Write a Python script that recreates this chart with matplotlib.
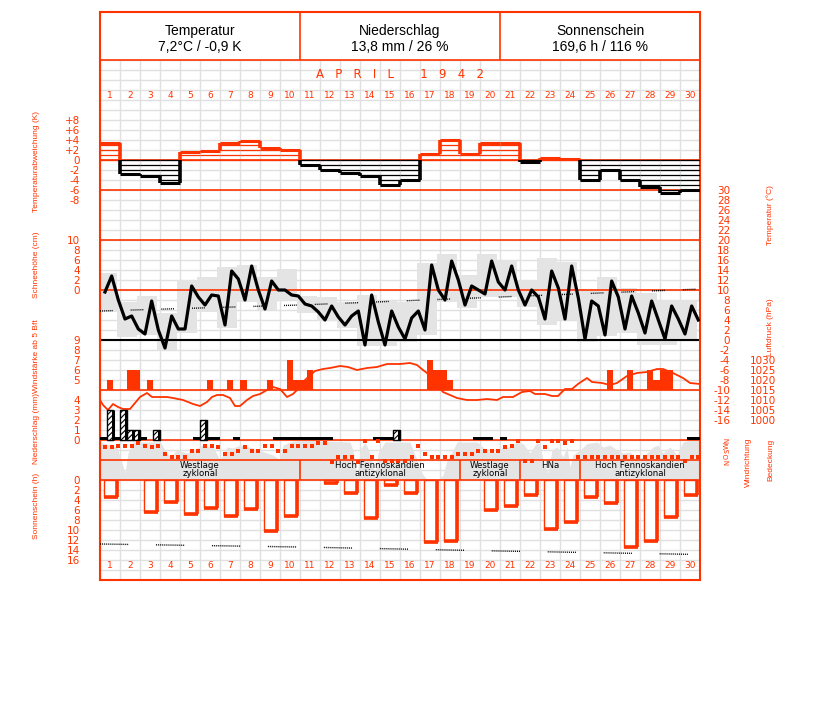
import matplotlib
matplotlib.use("Agg")
import matplotlib.pyplot as plt
import numpy as np

## DATEN ##
days = np.arange(1, 31)

# Temperaturabweichung vom Mittel (K), Tageswerte
temp_anom = [3.5, -2.8, -3.1, -4.5, 1.7, 1.9, 3.5, 3.9, 2.5, 2.0,
             -1.0, -2.0, -2.6, -3.2, -5.0, -4.0, 1.2, 4.0, 1.2, 3.4,
             3.4, -0.3, 0.5, 0.3, -4.0, -2.0, -4.0, -5.4, -6.6, -6.0]

# Temperatur (°C), 3 Termine pro Tag
temp_obs = [9.6, 12.8, 8.0,   4.2, 4.8, 2.2,   1.2, 7.8, 2.0,
            -1.6, 4.8, 2.2,   2.2, 10.8, 8.6,  7.0, 9.0, 8.8,
            3.0, 13.8, 12.2,  8.0, 14.8, 10.0, 6.2, 11.8, 10.0,
            10.0, 9.0, 8.8,   7.2, 6.8, 5.6,   4.0, 6.8, 4.6,
            3.0, 4.8, 5.8,    -1.0, 9.0, 3.6,  -1.0, 5.8, 2.6,
            0.2, 4.4, 5.8,    2.0, 15.0, 10.0, 8.0, 15.8, 12.0,
            7.0, 10.8, 10.0,  9.2, 15.8, 11.6, 10.0, 14.8, 10.0,
            7.0, 10.0, 8.6,   4.2, 13.8, 10.4, 4.2, 14.8, 8.4,
            0.2, 7.8, 6.8,    1.0, 11.8, 8.6,  2.2, 8.8, 5.4,
            1.4, 7.8, 4.0,    0.2, 6.8, 4.2,   1.2, 6.8, 4.0]

# Tagesmaximum / -minimum (°C)
temp_max = [13.4, 7.6, 8.8, 5.4, 12.0, 12.6, 14.6, 15.0, 12.6, 14.2,
            8.8, 8.6, 7.6, 9.0, 7.8, 7.6, 15.4, 17.2, 13.0, 17.2,
            16.0, 12.0, 16.4, 15.6, 10.0, 12.6, 10.4, 9.4, 8.0, 8.0]
temp_min = [5.6, 0.6, 1.0, -2.0, 1.4, 5.6, 2.4, 7.6, 6.0, 8.0,
            5.4, 3.8, 2.4, -1.2, -1.2, -0.4, 1.0, 7.6, 6.4, 8.6,
            8.6, 6.6, 3.0, 4.0, -0.4, 0.8, 1.4, -1.0, -1.0, 0.0]

# langjähriges Mittel der Temperatur (°C)
norm_day = [0, 10, 20, 30]
norm_temp = [5.8, 7.0, 8.6, 10.2]

# Windstärke ab 5 Bft, 3 Termine pro Tag (0 = unter 5 Bft)
wind_bft = [0, 5, 0,  0, 6, 6,  0, 5, 0,  0, 0, 0,  0, 0, 0,
            0, 5, 0,  0, 5, 0,  5, 0, 0,  0, 5, 0,  0, 7, 5,
            5, 6, 0,  0, 0, 0,  0, 0, 0,  0, 0, 0,  0, 0, 0,
            0, 0, 0,  0, 7, 6,  6, 5, 0,  0, 0, 0,  0, 0, 0,
            0, 0, 0,  0, 0, 0,  0, 0, 0,  0, 0, 0,  0, 0, 0,
            0, 6, 0,  0, 6, 0,  0, 6, 5,  6, 6, 0,  0, 0, 0]

# Luftdruck (hPa)
press_day = [0.0, 0.15, 0.4, 0.65, 0.9, 1.15, 1.5, 1.75, 2.0, 2.35, 2.6, 2.9,
             3.35, 3.65, 4.15, 4.65, 5.0, 5.35, 5.6, 5.85, 6.15, 6.5, 6.75,
             7.0, 7.35, 7.65, 8.0, 8.35, 8.65, 9.0, 9.35, 9.65, 9.85, 10.25,
             10.75, 11.15, 11.5, 12.0, 12.4, 12.85, 13.35, 13.85, 14.35, 15.0,
             15.5, 15.85, 16.15, 16.35, 16.75, 17.15, 17.5, 17.85, 18.35,
             18.85, 19.35, 19.85, 20.15, 20.65, 21.1, 21.5, 21.75, 22.25,
             22.6, 22.9, 23.25, 23.6, 23.9, 24.35, 24.6, 25.1, 25.5, 25.85,
             26.35, 26.85, 27.35, 27.85, 28.15, 28.65, 29.15, 29.5, 30.0]
press_hpa = [1010, 1007.5, 1005, 1008, 1006.5, 1005.5, 1005.5, 1008.5, 1011.5,
             1013.5, 1011.5, 1011.5, 1011.5, 1011, 1010, 1008, 1007, 1009,
             1011.5, 1012.5, 1012.5, 1011, 1007, 1007, 1010, 1012, 1013, 1015,
             1016.5, 1015.5, 1011.5, 1013, 1015, 1020, 1024.5, 1025.5, 1026,
             1027, 1026.5, 1025, 1026, 1026.5, 1028, 1028, 1028.5, 1027.5,
             1025, 1023.5, 1019, 1014, 1012.5, 1011, 1010, 1010, 1010.5, 1010,
             1011.5, 1011.5, 1014, 1014.5, 1013, 1013, 1012, 1012, 1015.5,
             1015.5, 1018, 1021, 1019, 1018.5, 1017.5, 1018.5, 1022, 1023.5,
             1024, 1025.5, 1025.5, 1023.5, 1021, 1018.5, 1018]

# Niederschlag (mm), 3 Termine pro Tag, 0.1 = Spur
precip = [0.1, 3, 0.1,  3, 1, 1,  0.1, 0, 1,  0, 0, 0,  0, 0, 0.1,
          2, 0.1, 0.1,  0, 0, 0.1,  0, 0, 0,  0, 0, 0.1,  0.1, 0.1, 0.1,
          0.1, 0.1, 0.1,  0.1, 0.1, 0,  0, 0, 0,  0, 0, 0.1,  0.1, 0.1, 1,
          0, 0, 0,  0, 0, 0,  0, 0, 0,  0, 0, 0.1,  0.1, 0.1, 0,
          0.1, 0, 0,  0, 0, 0,  0, 0, 0,  0, 0, 0,  0, 0, 0,
          0, 0, 0,  0, 0, 0,  0, 0, 0,  0, 0, 0,  0, 0.1, 0.1]

# Bedeckung (Achtel)
cloud_day = [0.0, 0.5, 0.85, 1.1, 1.25, 1.4, 1.65, 3.0, 3.35, 3.5, 3.85, 4.35,
             4.65, 5.15, 5.65, 6.0, 6.35, 6.65, 7.0, 7.65, 8.35, 8.65, 9.0,
             9.15, 9.5, 10.0, 12.5, 12.65, 12.85, 13.0, 13.25, 13.5, 13.75,
             13.9, 14.25, 15.5, 15.65, 15.85, 16.1, 16.35, 16.85, 17.15,
             17.35, 17.65, 17.85, 18.85, 19.15, 19.5, 19.85, 20.15, 20.5,
             20.85, 21.15, 21.5, 21.85, 22.0, 22.15, 22.4, 22.6, 22.85, 23.15,
             23.35, 23.5, 23.65, 24.0, 24.35, 24.85, 25.15, 25.5, 25.85, 26.15,
             26.5, 26.85, 27.15, 27.65, 27.9, 28.15, 28.5, 28.85, 29.15, 29.5,
             30.0]
cloud_octa = [7.6, 7.0, 6.6, 3.4, 1.4, 5.4, 7.6, 7.6, 5.4, 4.6, 6.0, 5.4,
              6.0, 7.0, 6.6, 4.0, 6.6, 6.4, 7.0, 6.4, 5.4, 5.0, 4.0,
              7.0, 7.6, 8.0, 7.6, 6.0, 0.6, 6.0, 7.6, 5.4, 0.6,
              5.4, 7.6, 7.6, 6.0, 4.0, 1.4, 0.0, 0.0, 1.0,
              4.0, 6.0, 7.6, 7.6, 6.6, 5.4, 5.6, 6.6, 6.6,
              7.6, 7.3, 5.4, 7.6, 7.0, 4.0, 1.4, 6.0, 6.6, 4.6,
              6.6, 2.6, 5.0, 6.0, 7.3, 7.6, 6.6, 7.0, 6.0, 5.4,
              5.6, 4.0, 4.6, 6.6, 7.0, 5.4, 6.6, 5.0, 7.6, 8.0,
              8.0]

# Windrichtung (Grad), 3 Termine pro Tag
wind_dir = [247, 247, 270,  270, 270, 315,  270, 247, 270,  135, 90, 90,
            90, 180, 180,   270, 270, 247,  135, 135, 180,  247, 180, 180,
            270, 270, 180,  180, 270, 270,  270, 270, 315,  315, 0, 90,
            90, 90, 0,      337, 90, 337,   22, 22, 22,     22, 90, 270,
            135, 90, 90,    90, 90, 135,    135, 135, 180,  180, 180, 180,
            247, 270, 337,  22, 22, 337,    247, 337, 337,  315, 337, 90,
            90, 90, 90,     90, 90, 90,     90, 90, 90,     90, 90, 90,
            90, 90, 90,     22, 90, 90]

# Sonnenscheindauer (h)
sun_h = [3.4, 0, 6.4, 4.4, 6.8, 5.6, 7.2, 5.8, 10.2, 7.2,
         0, 0.6, 2.6, 7.6, 0.9, 2.5, 12.3, 12.1, 0, 5.9,
         5.2, 3.0, 9.8, 8.4, 3.4, 4.6, 13.4, 12.2, 7.4, 3.0]
sun_poss_day = [0, 10, 20, 30]
sun_poss_h = [12.8, 13.4, 14.2, 14.9]

# Großwetterlagen
gwl_start = [1, 11, 19, 22, 25]
gwl_end = [10, 18, 21, 24, 30]
gwl_name = ["Westlage\nzyklonal", "Hoch Fennoskandien\nantizyklonal",
            "Westlage\nzyklonal", "HNa", "Hoch Fennoskandien\nantizyklonal"]

head_title = ["Temperatur", "Niederschlag", "Sonnenschein"]
head_value = ["7,2°C / -0,9 K", "13,8 mm / 26 %", "169,6 h / 116 %"]

## LAYOUT ##
RED = "#ff3300"
GRID = "#e0e0e0"
GRAY = "#e4e4e4"
W, H = 827, 702
L, R, T, B = 100, 700, 60, 580
TICK = 7.5
DOTS = (0, (0.7, 0.7) * 6 + (0.7, 13))

fig = plt.figure(figsize=(W / 100, H / 100), dpi=100)


def rect(x0, y0, x1, y1):
    return [x0 / W, 1 - y1 / H, (x1 - x0) / W, (y1 - y0) / H]


def panel(v_ref, y_ref, k, z):
    # Achse über dem ganzen Diagramm, Wert v_ref liegt bei Pixelzeile y_ref
    ax = fig.add_axes(rect(L, T, R, B))
    ax.set_xlim(0, 30)
    ax.set_ylim(v_ref - (B - y_ref) / k, v_ref + (y_ref - T) / k)
    ax.patch.set_visible(False)
    for s in ax.spines.values():
        s.set_visible(False)
    ax.set_xticks([])
    ax.set_yticks([])
    ax.set_zorder(z)
    return ax


def left_ticks(ax, vals, labels):
    ax.set_yticks(vals, labels)
    ax.tick_params(axis="y", length=0, pad=14.4, labelsize=TICK, labelcolor=RED)


def right_ticks(ax, vals, labels, pad_px):
    ax.yaxis.tick_right()
    ax.set_yticks(vals, labels)
    ax.tick_params(axis="y", length=0, pad=pad_px * 0.72, labelsize=TICK, labelcolor=RED)
    for lb in ax.get_yticklabels():
        lb.set_horizontalalignment("right")


obs_x = 0.25 + np.arange(90) / 3

# Gitter
base = panel(0, 0, -1, 0)
base.set_xticks(range(31))
base.set_yticks(range(T, B + 1, 10))
base.grid(True, color=GRID, lw=1)
base.tick_params(length=0, labelleft=False, labelbottom=False)

# Hintergrund: Tagesspanne Temperatur, Bedeckung
ax_tb = panel(0, 340, 5, 1)
ax_tb.bar(days - 1.15, np.array(temp_max) - np.array(temp_min), bottom=temp_min,
          width=1, align="edge", color=GRAY, lw=0)
ax_cb = panel(0, 480, 5, 1)
ax_cb.fill_between(cloud_day, 0, cloud_octa, color=GRAY, lw=0)

# Rahmen, Trennlinien, Texte (x in Tagen, y in Pixeln)
over = fig.add_axes(rect(L, 12, R, B))
over.set_xlim(0, 30)
over.set_ylim(B, 12)
over.patch.set_visible(False)
over.set_xticks([])
over.set_yticks([])
over.set_zorder(2)
for s in over.spines.values():
    s.set_color(RED)
    s.set_linewidth(1.5)
over.hlines([60, 160, 190, 240, 290, 390, 440, 460, 480], 0, 30, color=RED, lw=1.2)
over.hlines(340, 0, 30, color="black", lw=1.5)
over.vlines([10, 20], 12, 60, color=RED, lw=1.2)
over.vlines(np.array(gwl_end[:-1]), 460, 480, color=RED, lw=1.2)

for i in range(3):
    over.text(5 + 10 * i, 31, head_title[i], ha="center", va="center",
              fontsize=10, family="Liberation Sans")
    over.text(5 + 10 * i, 47, head_value[i], ha="center", va="center",
              fontsize=10, family="Liberation Sans")
over.text(15, 75, "A   P   R   I   L       1   9   4   2", ha="center", va="center",
          fontsize=8.5, color=RED)
for d in days:
    over.text(d - 0.5, 95, str(d), ha="center", va="center", fontsize=6.5, color=RED)
    over.text(d - 0.5, 565, str(d), ha="center", va="center", fontsize=6.5, color=RED)
for s, e, n in zip(gwl_start, gwl_end, gwl_name):
    over.text((s - 1 + e) / 2, 461.5, n, ha="center", va="top", fontsize=6.2,
              linespacing=0.8)

# Temperaturabweichung
ax_a = panel(0, 160, 5, 3)
for i, v in enumerate(temp_anom):
    col = RED if v > 0 else "black"
    for j in range(0, int(abs(v)) + 1):
        ax_a.hlines(np.sign(v) * j, i, i + 1, color=col, lw=0.9)
    ax_a.hlines(v, i, i + 1, color=col, lw=2.2)
    if i > 0:
        p = temp_anom[i - 1]
        for a, b in [(p, v)] if p * v > 0 else [(p, 0), (0, v)]:
            c = RED if (a + b) > 0 else "black"
            ax_a.vlines(i, a, b, color=c, lw=2.6)
left_ticks(ax_a, [8, 6, 4, 2, 0, -2, -4, -6, -8],
           ["+8", "+6", "+4", "+2", "0", "-2", "-4", "-6", "-8"])

# Temperatur
ax_t = panel(0, 340, 5, 3)
ax_t.plot(norm_day, norm_temp, color="black", lw=1, linestyle=DOTS)
ax_t.plot(obs_x, temp_obs, color="black", lw=2.3)
right_ticks(ax_t, list(range(30, -17, -2)), [str(v) for v in range(30, -17, -2)], 30)

# Schneehöhe
ax_sn = panel(0, 290, 5, 3)
left_ticks(ax_sn, [10, 8, 6, 4, 2, 0], ["10", "8", "6", "4", "2", "0"])

# Luftdruck
ax_p = panel(1015, 390, 2, 3)
ax_p.plot(press_day, press_hpa, color=RED, lw=1.3)
right_ticks(ax_p, [1030, 1025, 1020, 1015, 1010, 1005, 1000],
            ["1030", "1025", "1020", "1015", "1010", "1005", "1000"], 76)

# Windstärke
ax_w = panel(4, 390, 10, 3)
wb = np.array(wind_bft, dtype=float)
m = wb > 0
ax_w.bar(np.arange(90)[m] / 3, wb[m] - 4, bottom=4, width=1 / 3, align="edge",
         color=RED, lw=0)
left_ticks(ax_w, [9, 8, 7, 6, 5], ["9", "8", "7", "6", "5"])

# Niederschlag
plt.rcParams["hatch.linewidth"] = 0.8
ax_r = panel(0, 440, 10, 3)
pr = np.array(precip)
for i, v in enumerate(pr):
    if v <= 0:
        continue
    if v < 0.5:
        ax_r.bar(i / 3, 0.3, width=1 / 3, align="edge", color="black", lw=0)
    else:
        ax_r.bar(i / 3, v, width=1 / 3, align="edge", facecolor="white",
                 edgecolor="black", hatch="//////", lw=1)
        ax_r.vlines((i + 1) / 3 - 0.03, 0, v, color="black", lw=2.2)
left_ticks(ax_r, [4, 3, 2, 1, 0], ["4", "3", "2", "1", "0"])

# Windrichtung
ax_d = panel(0, 462, 22 / 360, 3)
ax_d.scatter(obs_x, wind_dir, marker="s", s=6, color=RED, lw=0)
for deg, lab in zip([0, 90, 180, 270, 360], ["N", "O", "S", "W", "N"]):
    ax_d.annotate(lab, xy=(1, deg), xycoords=("axes fraction", "data"),
                  xytext=(19.5, 0), textcoords="offset points", rotation=90,
                  ha="center", va="center", fontsize=5, color=RED)

# Sonnenschein
ax_s = panel(0, 480, -5, 3)
sh = np.array(sun_h)
m = sh > 0
x0 = days[m] - 1 + 0.2
ax_s.bar(x0, sh[m], width=0.65, align="edge", facecolor="white", edgecolor=RED, lw=1)
ax_s.vlines(x0 + 0.65, 0, sh[m], color=RED, lw=2.6)
ax_s.hlines(sh[m], x0, x0 + 0.69, color=RED, lw=2.6)
ax_s.plot(sun_poss_day, sun_poss_h, color="black", lw=1, linestyle=(0, (0.7, 0.7) * 14 + (0.7, 20)))
left_ticks(ax_s, list(range(0, 17, 2)), [str(v) for v in range(0, 17, 2)])

# Achsentitel
for txt, x, y in [("Temperaturabweichung (K)", 37, 161), ("Schneehöhe (cm)", 37, 265),
                  ("Windstärke ab 5 Bft", 37, 356), ("Niederschlag (mm)", 37, 428),
                  ("Sonnenschein (h)", 37, 506), ("Temperatur (°C)", 770, 215),
                  ("Luftdruck (hPa)", 770, 327), ("Windrichtung", 748, 462),
                  ("Bedeckung", 771, 460)]:
    fig.text(x / W, 1 - y / H, txt, rotation=90, ha="center", va="center",
             fontsize=6, color=RED, family="Liberation Sans")

fig.savefig("out.png", dpi=100)
